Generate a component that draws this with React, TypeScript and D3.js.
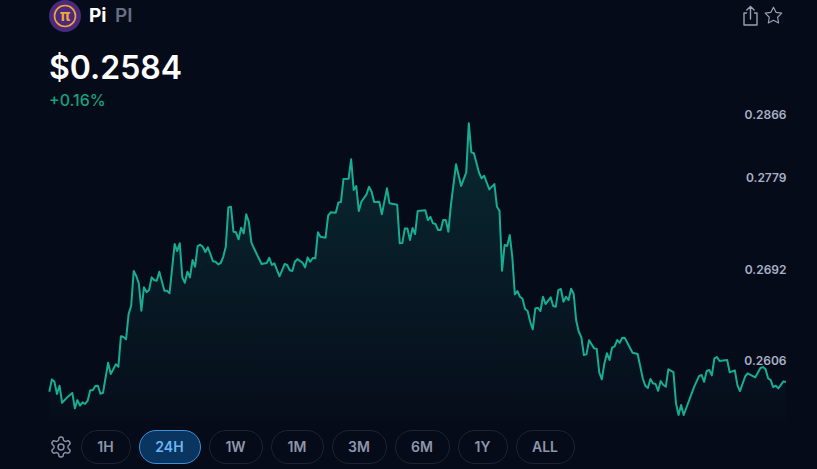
import React from 'react';
import * as d3 from 'd3';

// 5-minute sample number across the 24h window, and the price at that sample
const samples = [
  0, 1, 2, 3, 4, 5, 7, 9, 10, 11, 12, 13, 14, 15, 16, 17, 18, 19, 20, 21, 23, 24, 25, 26, 27, 28, 29, 30,
  31, 32, 33, 34, 35, 36, 37, 38, 39, 40, 41, 42, 43, 45, 46, 47, 49, 50, 51, 52, 53, 54, 55, 56, 57, 58,
  59, 60, 61, 62, 64, 65, 66, 67, 68, 69, 70, 71, 72, 73, 74, 75, 76, 77, 78, 79, 80, 83, 85, 86, 87, 88,
  90, 92, 93, 94, 95, 96, 97, 99, 100, 101, 102, 103, 104, 105, 106, 108, 109, 110, 112, 113, 114, 115,
  117, 118, 119, 120, 121, 122, 124, 125, 126, 127, 129, 130, 132, 133, 136, 137, 138, 139, 140, 141, 142,
  143, 144, 147, 148, 149, 150, 151, 152, 153, 154, 155, 156, 157, 159, 161, 163, 164, 165, 166, 168, 169,
  170, 172, 174, 175, 176, 177, 178, 179, 180, 181, 182, 183, 184, 185, 186, 187, 188, 189, 190, 191, 192,
  193, 194, 196, 197, 198, 199, 200, 201, 202, 203, 204, 205, 206, 207, 208, 209, 210, 211, 213, 214, 215,
  216, 217, 218, 219, 220, 221, 222, 223, 224, 225, 228, 230, 232, 233, 234, 235, 236, 237, 238, 239, 240,
  241, 242, 244, 245, 246, 247, 248, 252, 254, 255, 256, 257, 258, 259, 260, 261, 262, 265, 266, 268, 269,
  270, 272, 273, 276, 278, 279, 280, 281, 282, 283, 284, 285, 287, 288,
];

const prices = [
  0.2576, 0.25877, 0.25854, 0.25738, 0.25817, 0.25656, 0.25707, 0.25748, 0.25603, 0.25681, 0.25628, 0.2566,
  0.25644, 0.25675, 0.25773, 0.25773, 0.25814, 0.25817, 0.25741, 0.2575, 0.26034, 0.25927, 0.25972, 0.26019,
  0.25996, 0.26284, 0.26277, 0.26255, 0.26494, 0.26573, 0.26901, 0.26854, 0.26785, 0.26526, 0.26747, 0.26702,
  0.26721, 0.26841, 0.26816, 0.26809, 0.26894, 0.26715, 0.26715, 0.2669, 0.27156, 0.2709, 0.27163, 0.26841,
  0.2679, 0.26894, 0.26841, 0.27005, 0.26942, 0.27137, 0.2715, 0.27131, 0.27081, 0.27125, 0.26993, 0.26989,
  0.26964, 0.26977, 0.27036, 0.27131, 0.27503, 0.27509, 0.27273, 0.27267, 0.27201, 0.2731, 0.27257, 0.27437,
  0.27367, 0.27172, 0.27116, 0.26967, 0.26977, 0.27027, 0.26958, 0.26974, 0.26851, 0.26967, 0.26958, 0.26908,
  0.26901, 0.26989, 0.27014, 0.26979, 0.26936, 0.2703, 0.26989, 0.27024, 0.27021, 0.27267, 0.27225, 0.27216,
  0.27424, 0.27456, 0.27452, 0.2755, 0.27553, 0.27771, 0.27774, 0.27957, 0.27667, 0.27705, 0.27468, 0.27556,
  0.27626, 0.27698, 0.27651, 0.27553, 0.27556, 0.27437, 0.27683, 0.27541, 0.27528, 0.27163, 0.27166, 0.27303,
  0.27303, 0.27194, 0.27308, 0.27251, 0.27468, 0.27475, 0.27383, 0.27414, 0.27352, 0.27345, 0.27289, 0.27289,
  0.27383, 0.27383, 0.27273, 0.27525, 0.2791, 0.27705, 0.27834, 0.28297, 0.28023, 0.28014, 0.2783, 0.27777,
  0.27802, 0.27673, 0.27723, 0.27509, 0.27471, 0.26904, 0.27147, 0.27137, 0.27241, 0.27036, 0.26681, 0.26712,
  0.26658, 0.26639, 0.26542, 0.26523, 0.26422, 0.2635, 0.26548, 0.26554, 0.26523, 0.26658, 0.26589, 0.26652,
  0.2657, 0.26564, 0.26721, 0.26731, 0.26611, 0.26658, 0.26627, 0.26734, 0.26684, 0.26431, 0.26327, 0.26274,
  0.26107, 0.26113, 0.26246, 0.2617, 0.26166, 0.25943, 0.25877, 0.26028, 0.26123, 0.2606, 0.26176, 0.26189,
  0.26249, 0.26223, 0.2627, 0.26268, 0.26129, 0.26116, 0.25887, 0.25817, 0.25795, 0.2588, 0.25839, 0.25833,
  0.25769, 0.25861, 0.25826, 0.25807, 0.25972, 0.25946, 0.2565, 0.2554, 0.25634, 0.2554, 0.25801, 0.25908,
  0.25918, 0.25854, 0.25956, 0.25965, 0.25915, 0.26076, 0.26088, 0.2605, 0.2606, 0.25943, 0.25962, 0.25823,
  0.25766, 0.25902, 0.25934, 0.25896, 0.25984, 0.25993, 0.25974, 0.25887, 0.2587, 0.25804, 0.25817, 0.25792,
  0.25858, 0.25852,
];

const priceTicks = [0.2866, 0.2779, 0.2692, 0.2606];
const ranges = ['1H', '24H', '1W', '1M', '3M', '6M', '1Y', 'ALL'];
const rangeEdges = [81, 139, 209, 271, 332, 395, 458, 516, 575];
const activeRange = '24H';

const width = 817;
const height = 469;
const font = 'Inter, "Noto Sans", sans-serif';

const x = d3.scaleLinear().domain([0, 288]).range([49.3, 786]);
const y = d3.scaleLinear().domain([0.2606, 0.2779]).range([360, 177]);
const plotTop = 114;
const plotBottom = 420;

const points = samples.map((s, i) => [s, prices[i]] as [number, number]);
const line = d3.line<[number, number]>().x(d => x(d[0])).y(d => y(d[1]));
const area = d3.area<[number, number]>().x(d => x(d[0])).y0(plotBottom).y1(d => y(d[1]));

export default function App() {
  return (
    <svg
      width={width}
      height={height}
      style={{ position: 'absolute', left: 0, top: 0, display: 'block' }}
      fontFamily={font}
    >
      <defs>
        <linearGradient id="fade" gradientUnits="userSpaceOnUse" x1="0" x2="0" y1={plotTop} y2={plotBottom}>
          <stop offset="0%" stopColor="#14a88e" stopOpacity={0.2} />
          <stop offset="100%" stopColor="#14a88e" stopOpacity={0.01} />
        </linearGradient>
      </defs>
      <rect width={width} height={height} fill="#060b1a" />

      {/* coin header */}
      <circle cx={65} cy={16} r={16} fill="#4b2a7c" />
      <circle cx={65} cy={16} r={10.5} fill="none" stroke="#f0a63c" strokeWidth={1.6} />
      <text x={65} y={21} textAnchor="middle" fontSize={16} fontWeight={700} fill="#f0a63c">π</text>
      <text x={89} y={22} fontSize={19} fontWeight={700} fill="#ffffff">Pi</text>
      <text x={115} y={22} fontSize={19} fontWeight={600} fill="#667085">PI</text>
      <text x={49} y={79} fontSize={32} fontWeight={600} fill="#ffffff">$0.2584</text>
      <text x={49} y={106} fontSize={16} fontWeight={500} fill="#19a07c">+0.16%</text>

      {/* share + star */}
      <g fill="none" stroke="#98a2b3" strokeWidth={1.4} strokeLinecap="round" strokeLinejoin="round">
        <path d="M746.5 13 H744 V25 H757 V13 H754.5 M750.5 19 V6.5 M746.8 10 L750.5 6.5 L754.2 10" />
        <g transform="translate(763.5,5.5) scale(0.83)">
          <polygon points="12 2 15.09 8.26 22 9.27 17 14.14 18.18 21.02 12 17.77 5.82 21.02 7 14.14 2 9.27 8.91 8.26" />
        </g>
      </g>

      {/* chart */}
      <path d={area(points) ?? ''} fill="url(#fade)" />
      <path d={line(points) ?? ''} fill="none" stroke="#17ad92" strokeWidth={2} strokeLinejoin="round" />
      {priceTicks.map(t => (
        <text
          key={t}
          x={786.5}
          y={Math.max(y(t), plotTop)}
          dy="0.38em"
          textAnchor="end"
          fontSize={12}
          fontWeight={600}
          fill="#a9b1c6"
        >
          {d3.format('.4f')(t)}
        </text>
      ))}

      {/* range buttons */}
      <g
        transform="translate(49,435)"
        fill="none"
        stroke="#8d96aa"
        strokeWidth={1.4}
        strokeLinecap="round"
        strokeLinejoin="round"
      >
        <path d="M12.22 2h-.44a2 2 0 0 0-2 2v.18a2 2 0 0 1-1 1.73l-.43.25a2 2 0 0 1-2 0l-.15-.08a2 2 0 0 0-2.73.73l-.22.38a2 2 0 0 0 .73 2.73l.15.1a2 2 0 0 1 1 1.72v.51a2 2 0 0 1-1 1.74l-.15.09a2 2 0 0 0-.73 2.73l.22.38a2 2 0 0 0 2.73.73l.15-.08a2 2 0 0 1 2 0l.43.25a2 2 0 0 1 1 1.73V20a2 2 0 0 0 2 2h.44a2 2 0 0 0 2-2v-.18a2 2 0 0 1 1-1.73l.43-.25a2 2 0 0 1 2 0l.15.08a2 2 0 0 0 2.73-.73l.22-.39a2 2 0 0 0-.73-2.73l-.15-.08a2 2 0 0 1-1-1.74v-.5a2 2 0 0 1 1-1.74l.15-.09a2 2 0 0 0 .73-2.73l-.22-.38a2 2 0 0 0-2.73-.73l-.15.08a2 2 0 0 1-2 0l-.43-.25a2 2 0 0 1-1-1.73V4a2 2 0 0 0-2-2z" />
        <circle cx={12} cy={12} r={3} />
      </g>
      {ranges.map((r, i) => {
        const left = rangeEdges[i];
        const w = (i < ranges.length - 1 ? rangeEdges[i + 1] - 8 : rangeEdges[i + 1]) - left;
        const active = r === activeRange;
        return (
          <g key={r}>
            <rect
              x={left + 0.5}
              y={430.5}
              width={w - 1}
              height={33}
              rx={16.5}
              fill={active ? '#0a3560' : 'none'}
              stroke={active ? '#3d8fd6' : '#1c2333'}
            />
            <text
              x={left + w / 2 - 0.5}
              y={447}
              dy="0.36em"
              textAnchor="middle"
              fontSize={14}
              fontWeight={600}
              fill={active ? '#6cb6f5' : '#8d96aa'}
            >
              {r}
            </text>
          </g>
        );
      })}
    </svg>
  );
}
